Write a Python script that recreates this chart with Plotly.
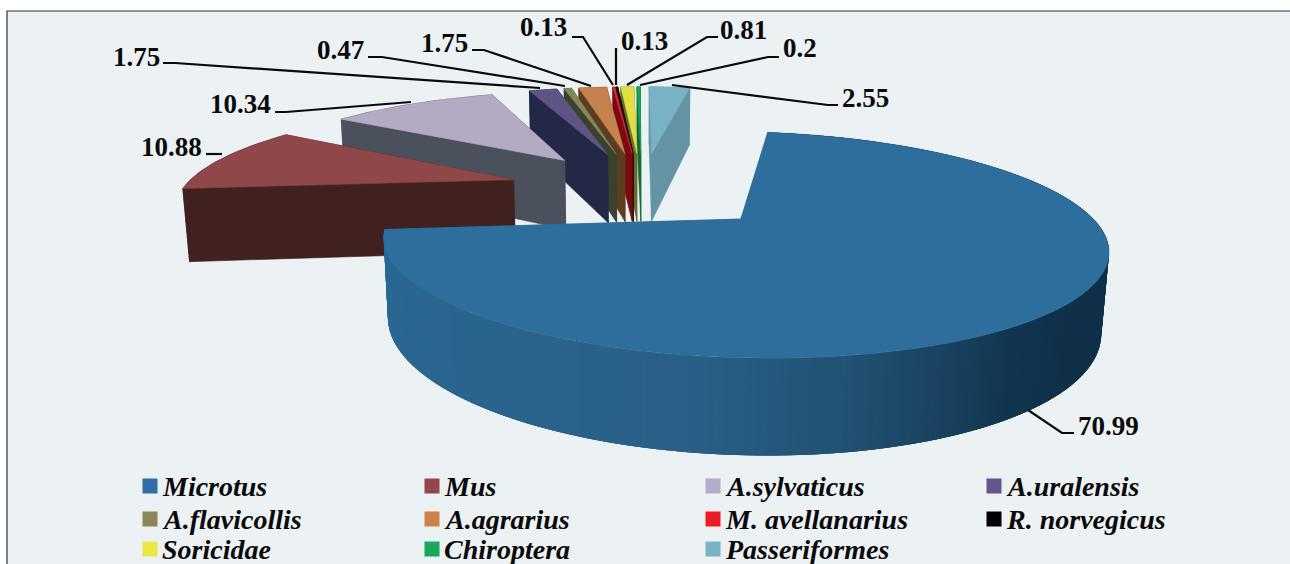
import numpy as np
import plotly.graph_objects as go

categories = ["Microtus", "Mus", "A.sylvaticus", "A.uralensis", "A.flavicollis", "A.agrarius",
              "M. avellanarius", "R. norvegicus", "Soricidae", "Chiroptera", "Passeriformes"]
values = [70.99, 10.88, 10.34, 1.75, 0.47, 1.75, 0.13, 0.13, 0.81, 0.2, 2.55]
value_labels = ["70.99", "10.88", "10.34", "1.75", "0.47", "1.75", "0.13", "0.13", "0.81", "0.2", "2.55"]
top_colors = ["#2E6E9C", "#8F474A", "#B3ABC4", "#5F5585", "#868659", "#C5824C",
              "#E0282C", "#111111", "#E2E040", "#17A455", "#79B2C4"]
wall_colors = ["#2A6088", "#40211F", "#4B515C", "#222845", "#3A422B", "#5C3D22",
               "#7A0A10", "#000000", "#6B6B2B", "#0E6B38", "#6494A4"]
legend_colors = ["#2F6FA5", "#94464B", "#B5ABC9", "#64558F", "#8A8759", "#CC8149",
                 "#ED1C24", "#000000", "#EBE644", "#17A85A", "#7AB3C6"]

# camera of the 3-D pie
START = 9.0
PULL = 0.41
DEPTH = 0.235
S, D, PHI, CX, CY = 330.0, 4.5, np.radians(16.6), 642.0, 189.0
FONT = "Liberation Serif"
INK = "#0a0a0a"


def proj(x, y, z):
    x, y, z = np.asarray(x, float), np.asarray(y, float), np.asarray(z, float)
    w = (D + y * np.cos(PHI) - z * np.sin(PHI)) / D
    return CX + S * x / w, CY - S * (y * np.sin(PHI) + z * np.cos(PHI)) / w


def poly(xs, ys, color, lw=0.6):
    return go.Scatter(x=np.append(xs, xs[0]), y=np.append(ys, ys[0]), mode="lines", fill="toself",
                      fillcolor=color, line=dict(color=color, width=lw),
                      hoverinfo="skip", showlegend=False)


STOPS_A = [130, 145, 170, 190, 265]
STOPS_C = [(16, 48, 74), (18, 54, 80), (34, 82, 116), (42, 96, 136), (44, 106, 150)]


def shade(a):
    a = np.clip(a, 130, 265)
    c = [np.interp(a, STOPS_A, [s[i] for s in STOPS_C]) for i in range(3)]
    return "rgb(%d,%d,%d)" % tuple(c)


fig = go.Figure()

edges = START + np.cumsum([0] + values) * 3.6
slices = []
for i, v in enumerate(values):
    a0, a1 = edges[i], edges[i + 1]
    mid = np.radians((a0 + a1) / 2)
    slices.append((i, a0, a1, PULL * np.sin(mid), PULL * np.cos(mid)))

for i, a0, a1, ox, oy in reversed(slices):
    n = max(3, int((a1 - a0) * 1.5))
    th = np.radians(np.linspace(a0, a1, n))
    ax, ay = ox + np.sin(th), oy + np.cos(th)
    # cut faces
    for k in (0, -1):
        qx = np.array([ox, ax[k], ax[k], ox])
        qy = np.array([oy, ay[k], ay[k], oy])
        qz = np.array([0, 0, -DEPTH, -DEPTH])
        fig.add_trace(poly(*proj(qx, qy, qz), wall_colors[i]))
    # outer wall
    if i == 0:
        # painted from the right end to the left end, each band overlapping the next
        for j in range(n - 1):
            e = min(j + 3, n - 1)
            qx = np.array([ax[j], ax[e], ax[e], ax[j]])
            qy = np.array([ay[j], ay[e], ay[e], ay[j]])
            qz = np.array([0, 0, -DEPTH, -DEPTH])
            fig.add_trace(poly(*proj(qx, qy, qz), shade(np.degrees(th[j])), lw=0))
    else:
        qx = np.concatenate([ax, ax[::-1]])
        qy = np.concatenate([ay, ay[::-1]])
        qz = np.concatenate([np.zeros(n), np.full(n, -DEPTH)])
        fig.add_trace(poly(*proj(qx, qy, qz), wall_colors[i]))
    # top
    tx = np.concatenate([[ox], ax])
    ty = np.concatenate([[oy], ay])
    fig.add_trace(poly(*proj(tx, ty, np.zeros(n + 1)), top_colors[i]))

# leader lines and value labels (order follows `values`)
leaders = [
    [(1028, 410), (1062, 433), (1074, 433)],
    [(222, 154), (206, 154)],
    [(411, 102), (286, 112), (275, 112)],
    [(540, 88), (175, 63), (163, 63)],
    [(565, 86), (382, 57), (368, 57)],
    [(591, 86), (484, 50), (472, 50)],
    [(613, 85), (583, 37), (572, 37)],
    [(616, 85), (616, 48)],
    [(627, 85), (707, 37), (718, 37)],
    [(640, 85), (768, 57), (779, 57)],
    [(672, 85), (828, 105), (838, 105)],
]
label_pos = [(1078, 426), (202, 147), (271, 104), (160, 57), (364, 50), (468, 43),
             (567, 27), (621, 41), (720, 30), (783, 48), (842, 98)]
anchors = ["left", "right", "right", "right", "right", "right", "right", "left", "left", "left", "left"]
annotations = []
for pts, pos, anc, txt in zip(leaders, label_pos, anchors, value_labels):
    fig.add_trace(go.Scatter(x=[p[0] for p in pts], y=[p[1] for p in pts], mode="lines",
                             line=dict(color=INK, width=2.2), hoverinfo="skip", showlegend=False))
    annotations.append(dict(x=pos[0], y=pos[1], xref="x", yref="y", text=txt, showarrow=False,
                            xanchor=anc, yanchor="middle", borderpad=0, borderwidth=0,
                            font=dict(family=FONT, size=27, color=INK, weight="bold")))

# legend block
col_x = [150, 432, 713, 994]
row_y = [486, 519, 549]
for i, name in enumerate(categories):
    r, c = divmod(i, 4)
    fig.add_trace(go.Scatter(x=[col_x[c]], y=[row_y[r]], mode="markers", name=name,
                             marker=dict(symbol="square", size=15, color=legend_colors[i]),
                             hoverinfo="skip", showlegend=False))
    annotations.append(dict(x=col_x[c] + 11, y=row_y[r], xref="x", yref="y", text=name, showarrow=False,
                            xanchor="left", yanchor="middle", borderpad=0,
                            font=dict(family=FONT, size=28, color=INK, weight="bold", style="italic")))

fig.update_layout(
    width=1290, height=564, margin=dict(l=0, r=0, t=0, b=0), paper_bgcolor="white", plot_bgcolor="white",
    xaxis=dict(range=[0, 1290], visible=False, fixedrange=True),
    yaxis=dict(range=[564, 0], visible=False, fixedrange=True),
    annotations=annotations,
    shapes=[dict(type="rect", xref="x", yref="y", x0=7, y0=11, x1=1295, y1=570, layer="below",
                 fillcolor="#ECF1F4", line=dict(color="#333333", width=1.2))],
)
fig.write_html("out.html", config=dict(displayModeBar=False),
               post_script="document.body.style.margin='0';document.body.style.overflow='hidden';")
